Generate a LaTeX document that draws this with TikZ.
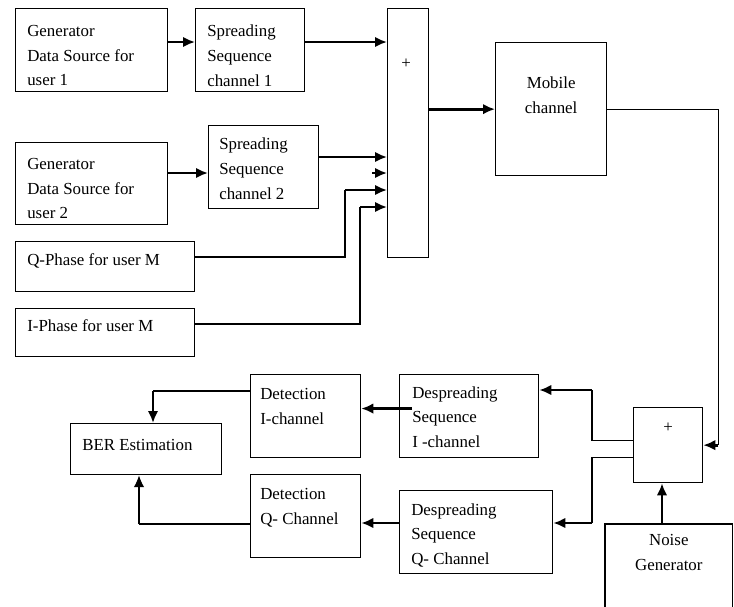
\documentclass[tikz,border=0pt]{standalone}
\usepackage{fontspec}
\setmainfont{Liberation Serif}
\usetikzlibrary{positioning}
\usetikzlibrary{arrows.meta}

\begin{document}
\begin{tikzpicture}[x=0.025cm, y=-0.025cm]
	\tikzstyle{blk} = [draw, line width=0.9pt, anchor=north west, inner sep=0pt]
	\tikzstyle{txt} = [anchor=north west, align=left, inner sep=0pt, font=\fontsize{12}{17.5}\selectfont]
	\tikzstyle{ctxt} = [anchor=north, align=center, inner sep=0pt, font=\fontsize{12}{17.5}\selectfont]
	\tikzstyle{wire} = [draw, line width=0.9pt]
	\tikzstyle{line} = [draw, line width=2pt, -{Latex[length=8.5pt, width=7.5pt]}]
	\tikzstyle{tline} = [draw, line width=0.9pt, -{Latex[length=8.5pt, width=7.5pt]}]

	\useasboundingbox (0,0) rectangle (734,606);

	% transmitter side
	\node [blk, minimum width=3.8cm, minimum height=2.075cm] (gen1) at (15,8) {};
	\node [blk, minimum width=2.725cm, minimum height=2.075cm] (sp1) at (195,8) {};
	\node [blk, minimum width=1.025cm, minimum height=6.225cm] (add) at (387,8) {};
	\node [blk, minimum width=2.775cm, minimum height=3.325cm] (mob) at (495,42) {};
	\node [blk, minimum width=3.8cm, minimum height=2.05cm] (gen2) at (15,142) {};
	\node [blk, minimum width=2.75cm, minimum height=2.075cm] (sp2) at (208,125) {};
	\node [blk, minimum width=4.475cm, minimum height=1.25cm] (qph) at (15,241) {};
	\node [blk, minimum width=4.475cm, minimum height=1.2cm] (iph) at (15,308) {};

	\node [txt] at ([shift={(12,17)}]gen1.north west) {Generator\\Data Source for\\user 1};
	\node [txt] at ([shift={(12,17)}]sp1.north west) {Spreading\\Sequence\\channel 1};
	\node [txt] at ([shift={(12,16)}]gen2.north west) {Generator\\Data Source for\\user 2};
	\node [txt] at ([shift={(11,13)}]sp2.north west) {Spreading\\Sequence\\channel 2};
	\node [txt] at ([shift={(12,12)}]qph.north west) {Q-Phase for user M};
	\node [txt] at ([shift={(12,11)}]iph.north west) {I-Phase for user M};
	\node [ctxt] at ([shift={(-2,51)}]add.north) {+};
	\node [ctxt] at ([shift={(0,35)}]mob.north) {Mobile\\channel};

	% receiver side
	\node [blk, minimum width=1.725cm, minimum height=1.875cm] (nadd) at (633,407) {};
	\node [anchor=north west, inner sep=0pt, minimum width=3.175cm, minimum height=2.05cm] (noise) at (605,524) {};
	\node [blk, minimum width=3.475cm, minimum height=2.075cm] (dI) at (399,374) {};
	\node [blk, minimum width=3.825cm, minimum height=2.075cm] (dQ) at (399,490) {};
	\node [blk, minimum width=2.75cm, minimum height=2.075cm] (detI) at (250,374) {};
	\node [blk, minimum width=2.75cm, minimum height=2.075cm] (detQ) at (250,474) {};
	\node [blk, minimum width=3.775cm, minimum height=1.275cm] (ber) at (70,423) {};
	\draw [line width=0.9pt] (noise.south west) -- (noise.north west) -- (noise.north east) -- (noise.south east);

	\node [ctxt] at ([shift={(0,16)}]nadd.north) {+};
	\node [ctxt] at ([shift={(0,10)}]noise.north) {Noise\\Generator};
	\node [txt] at ([shift={(13,12)}]dI.north west) {Despreading\\Sequence\\I -channel};
	\node [txt] at ([shift={(12,13)}]dQ.north west) {Despreading\\Sequence\\Q- Channel};
	\node [txt] at ([shift={(10,14)}]detI.north west) {Detection\\I-channel};
	\node [txt] at ([shift={(10,14)}]detQ.north west) {Detection\\Q- Channel};
	\node [txt] at ([shift={(12,16)}]ber.north west) {BER Estimation};

	% ports and bends
	\coordinate (in1) at (387,42);
	\coordinate (in2) at (387,157);
	\coordinate (in3) at (387,173);
	\coordinate (in4) at (387,190);
	\coordinate (in5) at (387,207);
	\coordinate (qb) at (345,257);
	\coordinate (ib) at (360,324);
	\coordinate (pI) at (592,390);
	\coordinate (pQ) at (592,523);
	\coordinate (bI) at (153,391);
	\coordinate (bQ) at (139,524);

	\path [line] (gen1.east |- in1) -- (sp1.west |- in1);
	\path [line] (sp1.east |- in1) -- (in1);
	\path [line] (gen2.east |- in3) -- (sp2.west |- in3);
	\path [line] (sp2.east |- in2) -- (in2);
	\path [line] ([xshift=-0.375cm]in3) -- (in3);
	\path [wire] (qph.east |- qb) -- (qb) -- (qb |- in4);
	\path [line] (qb |- in4) -- (in4);
	\path [wire] (iph.east |- ib) -- (ib) -- (ib |- in5);
	\path [line] (ib |- in5) -- (in5);
	\path [line] (add.east |- mob.west) -- (mob.west);

	\path [wire] (mob.east) -| ([xshift=0.375cm]nadd.east);
	\path [line] ([xshift=0.375cm]nadd.east) -- (nadd.east);
	\path [line] ([xshift=-0.17cm]noise.north) -- ([xshift=-0.17cm]noise.north |- nadd.south);
	\path [wire] ([yshift=0.11cm]nadd.west) -| (pI);
	\path [line] (pI) -- (pI -| dI.east);
	\path [wire] ([yshift=-0.31cm]nadd.west) -| (pQ);
	\path [line] (pQ) -- (pQ -| dQ.east);
	\path [line] ([xshift=0.33cm, yshift=0.19cm]dI.west) -- ([yshift=0.19cm]detI.east);
	\path [line] (pQ -| dQ.west) -- (pQ -| detQ.east);
	\path [wire] (detI.west |- bI) -- (bI);
	\path [line] (bI) -- (bI |- ber.north);
	\path [wire] (detQ.west |- bQ) -- (bQ);
	\path [tline] (bQ) -- (bQ |- ber.south);
\end{tikzpicture}
\end{document}
